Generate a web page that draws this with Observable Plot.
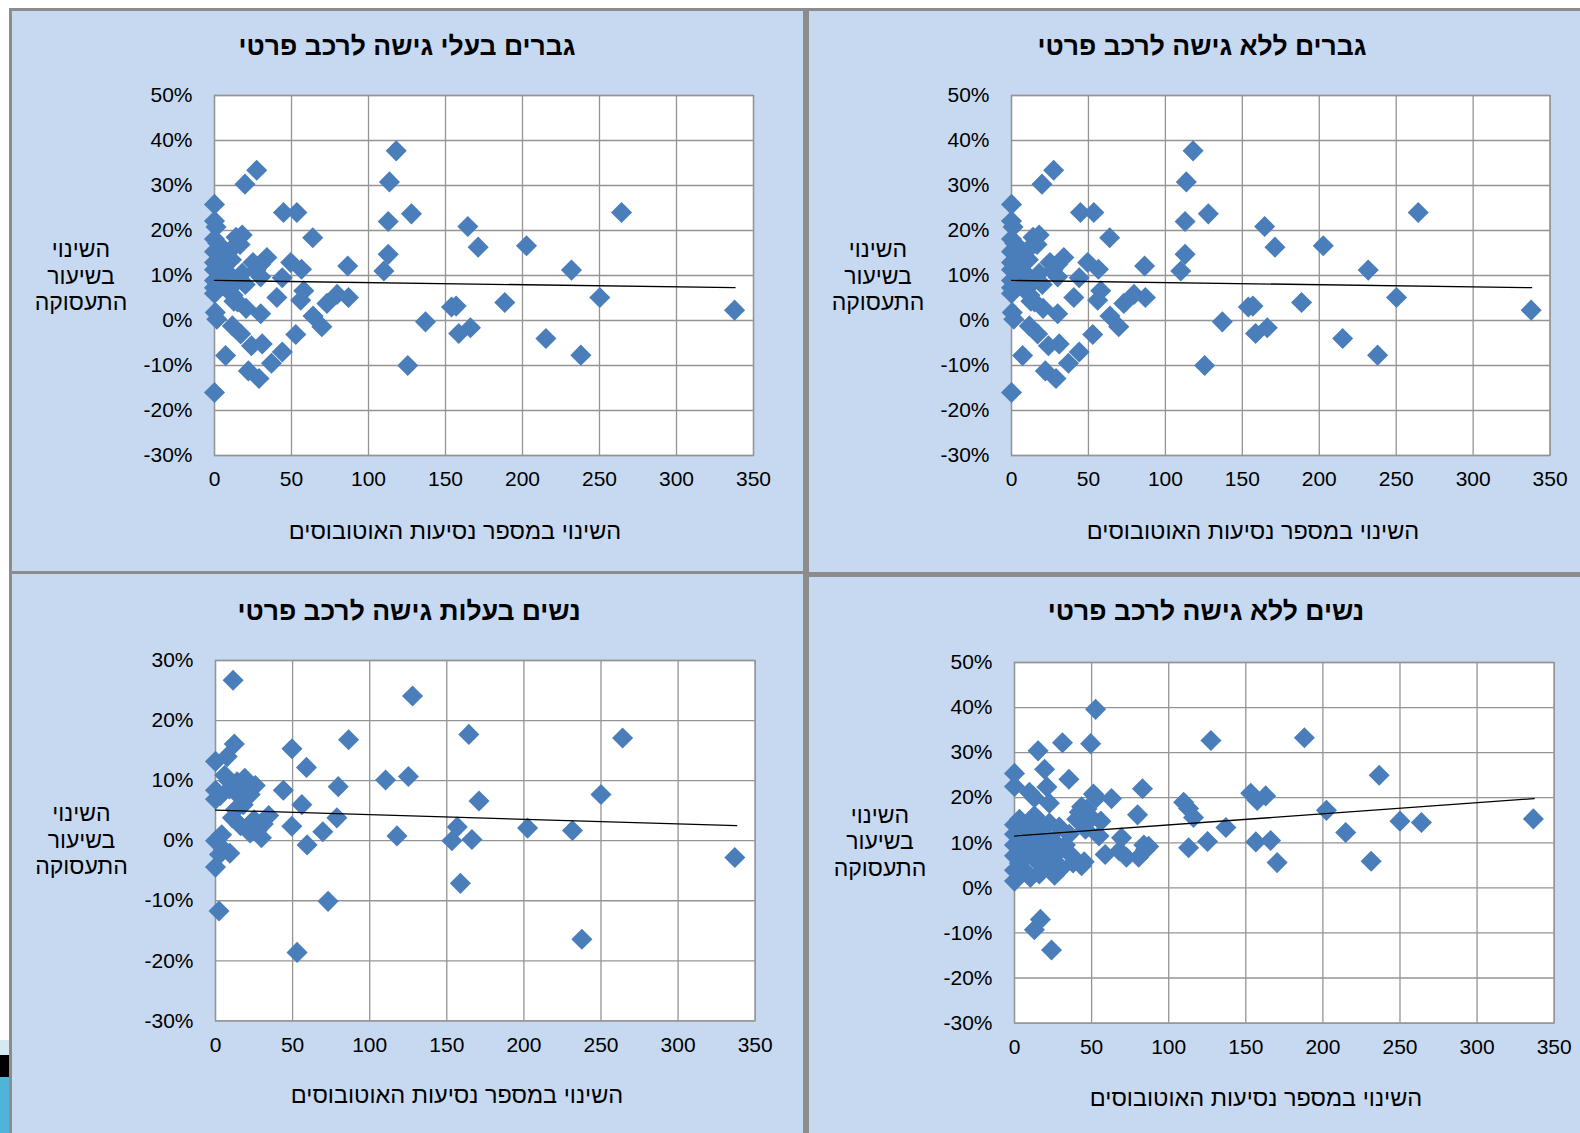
<!DOCTYPE html>
<html><head><meta charset="utf-8">
<script src="https://cdn.jsdelivr.net/npm/d3@7"></script>
<script src="https://cdn.jsdelivr.net/npm/@observablehq/plot@0.6"></script>
<style>
body{margin:0;width:1580px;height:1133px;overflow:hidden;background:#fff;position:relative;font-family:"Liberation Sans",Arial,sans-serif;}
.panel{position:absolute;background:#C6D9F1;border:3px solid #8C8C8C;box-sizing:border-box;}
.lbl{position:absolute;transform:translate(-50%,-50%);white-space:nowrap;direction:rtl;color:#000;}
.title{font-weight:bold;font-size:26.5px;}
.xl{font-size:23.5px;}
.yl{font-size:23px;text-align:center;line-height:26.5px;}
.chart{position:absolute;}
.deco{position:absolute;left:0;width:9px;}
</style></head><body>
<div class="deco" style="top:1040px;height:15px;background:#D5E9F2"></div>
<div class="deco" style="top:1055px;height:22px;background:#000"></div>
<div class="deco" style="top:1077px;height:56px;background:#4FB4D8"></div>
<script>
// ---- data ----
const xTicks = [0, 50, 100, 150, 200, 250, 300, 350];
const yTicksWide = [-30, -20, -10, 0, 10, 20, 30, 40, 50];
const yTicksNarrow = [-30, -20, -10, 0, 10, 20, 30];

const titles = ["גברים בעלי גישה לרכב פרטי", "גברים ללא גישה לרכב פרטי", "נשים בעלות גישה לרכב פרטי", "נשים ללא גישה לרכב פרטי"];
const xLabel = "השינוי במספר נסיעות האוטובוסים";
const yLabelLines = ["השינוי", "בשיעור", "התעסוקה"];

// men with car access (x = change in bus trips, y = change in employment rate, %)
const menCarX = [27.4,19.8,0,0,1,0,2,14,16.6,18, 44.8,53.5,63.8,34,30,27,30,25,49.5,56.5, 86.5,44,40.5,58,56,73,79.6,87,64,69.7, 30,20.5,12.6,0.5,1.5,11.6,17,24,31,52.8, 44,37,7.2,22,28.9,0, 0,0,0,0,0,0, 3,6,9,11,5,8,12,15,10,18, 20,14, 118,113.6,112.8,127.9,112.8,110,164.5,171.2,202.6,231.8, 264.3,250.2,337.7,188.5,153.9,156.9,137,158.6,166.2,215.2, 237.9,125.5];
const menCarY = [33.4,30.3,25.8,22.1,20.8,18.1,17.2,18.5,16.9,19, 24,24,18.4,14,12.5,11.3,9.7,12.9,12.9,11.4, 12.1,9.5,5.1,6.6,4.5,3.8,5.8,5.1,1.0,-1.4, 1.5,2.7,4.3,1.8,0.3,-1.2,-3,-5.6,-5.2,-3.1, -7,-9.5,-7.8,-11.2,-12.9,-16, 15.3,12.9,11.3,8.9,7.3,6.0, 14.5,12,10.5,13.5,9.5,7.5,5.6,4.1,15.5,10.5, 8,8.5, 37.7,30.8,22,23.7,14.7,11,20.9,16.3,16.6,11.2, 24,5.1,2.3,4,3,3.2,-0.3,-2.9,-1.6,-4, -7.7,-10];
const menCarTrendX = [0, 338];
const menCarTrendY = [8.9, 7.3];

// men without car access (same points in the reference)
const menNoCarX = menCarX.slice();
const menNoCarY = menCarY.slice();
const menNoCarTrendX = [0, 338];
const menNoCarTrendY = [8.9, 7.3];

// women with car access
const womenCarX = [110.3,117.7,125.1,127.8,153.3,156.8,158.8,166.3,164.3,170.9, 202.4,231.5,237.6,250,264,336.8, 44,49.6,59,56,49.5,59.4,69.6,78.7,79.6,86.3, 73,52.9, 11.4,0,7.6,12.2,6,19,25.8,0,0,9, 15.5,22.5,11,16.3,22.5,29.8,34.5,31,0,2.6, 9.3,0,2.3,4,14,18,25,8.5,3,20.5, 27,13,5];
const womenCarY = [10.1,0.8,10.7,24.1,0,2.3,-7.1,0.2,17.7,6.6, 2.1,1.7,-16.4,7.7,17.1,-2.8, 8.4,15.3,12.2,6,2.4,-0.7,1.5,3.8,9,16.8, -10.1,-18.6, 26.7,13.2,14,16.1,10.9,10.4,9.2,8.4,6.9,8.6, 7.4,7.7,3.8,2.5,1.3,0.5,4.2,2.8,0,-2.3, -2.1,-4.4,-11.7,1,9.8,6,3.5,10,7.5,9.1, 1.7,5.2,-1.4];
const womenCarTrendX = [0, 338];
const womenCarTrendY = [5.1, 2.5];

// women without car access
const womenNoCarX = [52.6,31.1,49.4,15.3,127.4,188,236.5,0,0,19.5, 35.3,9.7,21,12.9,83,22.6,53.2,62.9,43.5,79.8, 109.7,112.9,116.1,153.2,162.9,157.4,202.3,137.1,250,263.9, 336.5,214.8,125.2,112.9,156.5,166.1,170.3,231.3,54.8,69.4, 83.9,87,58.8,68,72.6,80.5,85,45.2,43.5,30.6, 25.8,16.1,10.3,0,0,0,0,0,0,3.2, 12.9,16.1,22.6,29,35.5,12.9,8.1,19.4,3.2,22.6, 37.1,40.3,42,47,50,56,46,51.2,12.9,16.8, 24,5,7,10,18,25,28,33,38,6, 14,20,26];
const womenNoCarY = [39.6,32.2,32,30.4,32.7,33.3,25,25.4,22.5,26.3, 24.1,21.2,22.4,20,22,18.8,20,19.8,18,16.2, 19,17.6,15.6,21,20.4,19.4,17.2,13.4,14.8,14.5, 15.3,12.3,10.3,8.9,10.2,10.5,5.6,5.9,11.5,11.1, 9.5,9.2,7.4,8.2,6.8,6.8,8.5,5.8,4.9,4.4, 7.1,3.1,2.3,1.5,3.9,7.1,9.5,11.9,14,15.2, 16,14.8,14.4,13.5,11.9,10.3,7.9,8.7,5.5,4.7, 7.1,15.2,16.8,17.5,15.5,14.8,13,20.8,-9.3,-7, -13.8,12.8,10.8,13.2,12,10.5,8.5,9.5,5.5,4, 6,5.8,2.8];
const womenNoCarTrendX = [0, 337];
const womenNoCarTrendY = [11.5, 19.8];

// ---- layout ----
const panels = [
  {box:[9,8,797,567], plot:[214,94.5,753,454.5], xs:menCarX, ys:menCarY, tx:menCarTrendX, ty:menCarTrendY, yt:yTicksWide,
   title:[407,45.5], xl:[455,531], yl:[81,276]},
  {box:[806,8,790,567], plot:[1011.4,94.5,1550,454.5], xs:menNoCarX, ys:menNoCarY, tx:menNoCarTrendX, ty:menNoCarTrendY, yt:yTicksWide,
   title:[1202,45.5], xl:[1253,531], yl:[878,276]},
  {box:[9,571,797,600], plot:[215.3,660,755,1020.4], xs:womenCarX, ys:womenCarY, tx:womenCarTrendX, ty:womenCarTrendY, yt:yTicksNarrow,
   title:[409,610.5], xl:[457,1095], yl:[81.5,840]},
  {box:[806,574,790,600], plot:[1014,662,1553.7,1022.6], xs:womenNoCarX, ys:womenNoCarY, tx:womenNoCarTrendX, ty:womenNoCarTrendY, yt:yTicksWide,
   title:[1206,611], xl:[1256,1097.5], yl:[880,841.5]}
];

const ML = 110, MR = 45, MT = 20, MB = 50;
const GRID = "#949494";

panels.forEach((p, i) => {
  const box = document.createElement("div");
  box.className = "panel";
  Object.assign(box.style, {left: p.box[0]+"px", top: p.box[1]+"px", width: p.box[2]+"px", height: p.box[3]+"px"});
  document.body.appendChild(box);
});

panels.forEach((p, i) => {
  const [x0, y0, x1, y1] = p.plot;
  const w = x1 - x0, h = y1 - y0;
  const pts = p.xs.map((x, k) => ({x, y: p.ys[k]}));
  const trend = p.tx.map((x, k) => ({x, y: p.ty[k]}));
  const yDom = [p.yt[0], p.yt[p.yt.length - 1]];
  const svg = Plot.plot({
    width: w + ML + MR, height: h + MT + MB,
    marginLeft: ML, marginRight: MR, marginTop: MT, marginBottom: MB,
    style: {background: "transparent", fontFamily: "'Liberation Sans', Arial, sans-serif", fontSize: "21px", color: "#000", overflow: "visible"},
    x: {domain: [0, 350]},
    y: {domain: yDom},
    marks: [
      Plot.frame({fill: "white", stroke: "none"}),
      Plot.gridX(xTicks, {stroke: GRID, strokeOpacity: 1, strokeWidth: 1.3}),
      Plot.gridY(p.yt, {stroke: GRID, strokeOpacity: 1, strokeWidth: 1.3}),
      Plot.frame({stroke: GRID, strokeWidth: 1.3}),
      Plot.axisX(xTicks, {tickSize: 0, tickPadding: 16, fontSize: 21, label: null, tickFormat: d => String(d)}),
      Plot.axisY(p.yt, {tickSize: 0, tickPadding: 22, fontSize: 21, label: null, tickFormat: d => d + "%"}),
      Plot.dot(pts, {x: "x", y: "y", symbol: "diamond2", r: 9.5, fill: "#4A7EBB", stroke: "none"}),
      Plot.line(trend, {x: "x", y: "y", stroke: "#000", strokeWidth: 1.3})
    ]
  });
  svg.classList.add("chart");
  svg.style.left = (x0 - ML) + "px";
  svg.style.top = (y0 - MT) + "px";
  document.body.appendChild(svg);

  const t = document.createElement("div");
  t.className = "lbl title"; t.textContent = titles[i];
  t.style.left = p.title[0] + "px"; t.style.top = p.title[1] + "px";
  document.body.appendChild(t);

  const xl = document.createElement("div");
  xl.className = "lbl xl"; xl.textContent = xLabel;
  xl.style.left = p.xl[0] + "px"; xl.style.top = p.xl[1] + "px";
  document.body.appendChild(xl);

  const yl = document.createElement("div");
  yl.className = "lbl yl"; yl.innerHTML = yLabelLines.join("<br>");
  yl.style.left = p.yl[0] + "px"; yl.style.top = p.yl[1] + "px";
  document.body.appendChild(yl);
});
</script>
</body></html>
